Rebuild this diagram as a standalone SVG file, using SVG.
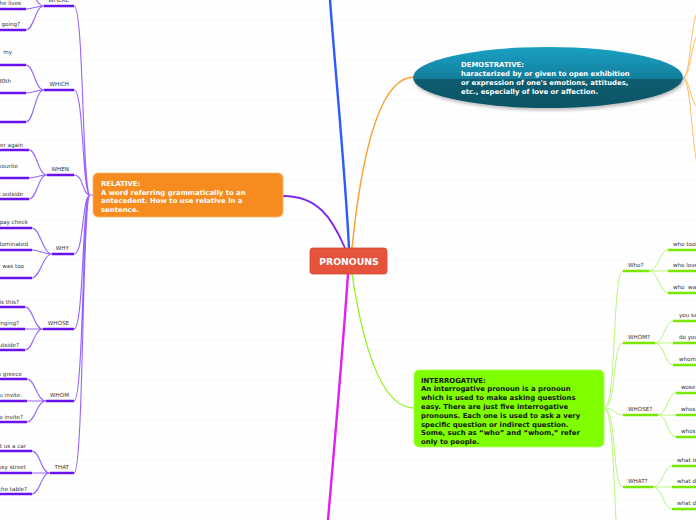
<svg xmlns="http://www.w3.org/2000/svg" width="696" height="520" viewBox="0 0 696 520">
<defs>
<pattern id="bg" width="696" height="10" patternUnits="userSpaceOnUse" y="0.5"><line x1="0" y1="10" x2="696" y2="10" stroke="#f0f0f0" stroke-width="1"/></pattern>
<linearGradient id="demo" x1="0" y1="0" x2="0" y2="1">
<stop offset="0" stop-color="#1aa2c4"/><stop offset="0.53" stop-color="#137d9b"/><stop offset="0.53" stop-color="#0d5d70"/><stop offset="1" stop-color="#0b5466"/>
</linearGradient>
<filter id="sh" x="-10%" y="-20%" width="120%" height="150%"><feGaussianBlur stdDeviation="1.5"/></filter>
<style>
.lbl{font-family:"DejaVu Sans",Verdana,sans-serif;font-size:5.6px;fill:#333333}
.nt{font-family:"DejaVu Sans",Verdana,sans-serif;font-size:6.9px;font-weight:bold}
.pu{stroke:#6a12f2;stroke-width:2.6;fill:none}
.pc{stroke:#9563ff;stroke-width:1.1;fill:none}
.gu{stroke:#78e800;stroke-width:2.6;fill:none}
.gc{stroke:#b9f57a;stroke-width:1;fill:none}
.oc{stroke:#ffbd66;stroke-width:1;fill:none}
</style>
</defs>
<rect width="696" height="520" fill="#ffffff"/>
<rect width="696" height="520" fill="url(#bg)"/>

<g id="connectors">
<path d="M349,248 C345,170 336,80 330,0" stroke="#2a5cff" stroke-width="2.4" fill="none"/>
<path d="M345,248 C332,218 318,196 283,196" stroke="#7a2af0" stroke-width="1.8" fill="none"/>
<path d="M352,248 C362,150 380,77 414,77" stroke="#f9a233" stroke-width="1.5" fill="none"/>
<path d="M348,274 C342,360 334,450 328,520" stroke="#e21ef2" stroke-width="2.4" fill="none"/>
<path d="M352,274 C362,340 380,408 414,408" stroke="#8ef21a" stroke-width="1.3" fill="none"/>
<path class="pc" d="M93,195 H90 M74,6 C84,6 82,195 90,195 M74,90 C84,90 82,195 90,195 M74,175 C84,175 82,195 90,195 M74,254 C84,254 82,195 90,195 M74,329 C84,329 82,195 90,195 M74,401 C84,401 82,195 90,195 M74,473 C84,473 82,195 90,195"/>
<path class="pc" d="M26,-13 C34,-13 35,6 44,6 M26,9 C34,9 35,6 44,6 M26,30 C34,30 35,6 44,6"/>
<path class="pc" d="M26,65 C34,65 35,90 44,90 M26,93 C34,93 35,90 44,90 M26,122 C34,122 35,90 44,90"/>
<path class="pc" d="M29,150 C37,150 38,175 47,175 M29,178 C37,178 38,175 47,175 M29,199 C37,199 38,175 47,175"/>
<path class="pc" d="M32,228 C40,228 43,254 52,254 M32,250 C40,250 43,254 52,254 M32,278 C40,278 43,254 52,254"/>
<path class="pc" d="M25,307 C33,307 34,329 43,329 M25,329 H43 M25,350 C33,350 34,329 43,329"/>
<path class="pc" d="M27,379 C35,379 37,401 46,401 M27,401 H46 M27,422 C35,422 37,401 46,401"/>
<path class="pc" d="M32,451 C40,451 41,473 50,473 M32,473 H50 M32,494 C40,494 41,473 50,473"/>
<path class="gc" d="M604,408 C617,408 612,271 623,271 M604,408 C617,408 612,343 623,343 M604,408 C615,408 614,415 623,415 M604,408 C617,408 612,487 623,487 M604,408 C617,408 612,560 623,560"/>
<path class="gc" d="M649,271 C658,271 660,250 668,250 M649,271 H668 M649,271 C658,271 660,293 668,293"/>
<path class="gc" d="M655,343 C664,343 665,321 673,321 M655,343 H673 M655,343 C664,343 665,365 673,365"/>
<path class="gc" d="M658,415 C667,415 668,393 676,393 M658,415 H676 M658,415 C667,415 668,437 676,437"/>
<path class="gc" d="M653,487 C662,487 664,466 672,466 M653,487 H672 M653,487 C662,487 664,509 672,509"/>
<path class="oc" d="M683,78 C690,78 690,30 697,12 M683,78 C690,78 691,45 697,36 M683,78 C689,78 689,95 697,108 M683,78 C690,78 691,130 697,165"/>
</g>

<g id="pronouns">
<rect x="310" y="248" width="77" height="26" rx="3" fill="#e5533d" stroke="#d6452f" stroke-width="0.8"/>
<text x="349" y="264.5" text-anchor="middle" font-family="'DejaVu Sans',Verdana,sans-serif" font-size="9.3" font-weight="bold" fill="#ffffff">PRONOUNS</text>
</g>

<g id="relative">
<rect x="93" y="173" width="190" height="44" rx="5" fill="#f68b1f" stroke="#f9b66e" stroke-width="0.8"/>
<text class="nt" fill="#ffffff"><tspan x="101" y="186">RELATIVE:</tspan><tspan x="101" y="194.5">A word referring grammatically to an</tspan><tspan x="101" y="203">antecedent. How to use relative in a</tspan><tspan x="101" y="211.5">sentence.</tspan></text>
</g>

<g id="demonstrative">
<ellipse cx="549" cy="80" rx="135" ry="30.5" fill="#777" opacity="0.45" filter="url(#sh)"/>
<ellipse cx="548" cy="77.5" rx="135" ry="30.5" fill="url(#demo)"/>
<text class="nt" fill="#ffffff"><tspan x="461" y="66.5">DEMOSTRATIVE:</tspan><tspan x="461" y="75.5">haracterized by or given to open exhibition</tspan><tspan x="461" y="84.5">or expression of one's emotions, attitudes,</tspan><tspan x="461" y="93.5">etc., especially of love or affection.</tspan></text>
</g>

<g id="interrogative">
<rect x="414" y="370" width="190" height="77" rx="5" fill="#80ff00" stroke="#a6ff55" stroke-width="0.8"/>
<text class="nt" fill="#111111"><tspan x="421" y="382.5">INTERROGATIVE:</tspan><tspan x="421" y="391.3">An interrogative pronoun is a pronoun</tspan><tspan x="421" y="400.1">which is used to make asking questions</tspan><tspan x="421" y="408.9">easy. There are just five interrogative</tspan><tspan x="421" y="417.7">pronouns. Each one is used to ask a very</tspan><tspan x="421" y="426.5">specific question or indirect question.</tspan><tspan x="421" y="435.3">Some, such as “who” and “whom,” refer</tspan><tspan x="421" y="444.1">only to people.</tspan></text>
</g>

<g id="rel-where">
<path class="pu" d="M44,6 H74 M-2,9 H26 M-2,30 H26"/>
<text class="lbl" x="69" y="1.5" text-anchor="end">WHERE</text>
<text class="lbl" x="21" y="4.5" text-anchor="end">he lives</text>
<text class="lbl" x="20" y="25.5" text-anchor="end">going?</text>
</g>
<g id="rel-which">
<path class="pu" d="M44,90 H74 M-2,65 H26 M-2,93 H26 M-2,122 H26"/>
<text class="lbl" x="69" y="86" text-anchor="end">WHICH</text>
<text class="lbl" x="12" y="54" text-anchor="end">my</text>
<text class="lbl" x="11" y="82.5" text-anchor="end">30th</text>
</g>
<g id="rel-when">
<path class="pu" d="M47,175 H74 M-2,150 H29 M-2,178 H29 M-2,199 H29"/>
<text class="lbl" x="69" y="170.5" text-anchor="end">WHEN</text>
<text class="lbl" x="23" y="146.5" text-anchor="end">er again</text>
<text class="lbl" x="18" y="167.5" text-anchor="end">vourite</text>
<text class="lbl" x="23" y="195.5" text-anchor="end">t outside</text>
</g>
<g id="rel-why">
<path class="pu" d="M52,254 H74 M-2,228 H32 M-2,250 H32 M-2,278 H32"/>
<text class="lbl" x="69" y="249.5" text-anchor="end">WHY</text>
<text class="lbl" x="28" y="224" text-anchor="end">pay check</text>
<text class="lbl" x="28" y="245.5" text-anchor="end">dominated</text>
<text class="lbl" x="24" y="267.5" text-anchor="end">r was too</text>
</g>
<g id="rel-whose">
<path class="pu" d="M43,329 H74 M-2,307 H25 M-2,329 H25 M-2,350 H25"/>
<text class="lbl" x="69" y="324.5" text-anchor="end">WHOSE</text>
<text class="lbl" x="19" y="303.5" text-anchor="end">is this?</text>
<text class="lbl" x="19" y="324.5" text-anchor="end">inging?</text>
<text class="lbl" x="19" y="346.5" text-anchor="end">utside?</text>
</g>
<g id="rel-whom">
<path class="pu" d="M46,401 H74 M-2,379 H27 M-2,401 H27 M-2,422 H27"/>
<text class="lbl" x="69" y="396.5" text-anchor="end">WHOM</text>
<text class="lbl" x="22" y="375.5" text-anchor="end">n greece</text>
<text class="lbl" x="22" y="396.5" text-anchor="end">u invite.</text>
<text class="lbl" x="23" y="418.5" text-anchor="end">o invite?</text>
</g>
<g id="rel-that">
<path class="pu" d="M50,473 H74 M-2,451 H32 M-2,473 H32 M-2,494 H32"/>
<text class="lbl" x="69" y="468.5" text-anchor="end">THAT</text>
<text class="lbl" x="26" y="447.5" text-anchor="end">t us a car</text>
<text class="lbl" x="26" y="468.5" text-anchor="end">usy street</text>
<text class="lbl" x="27" y="490.5" text-anchor="end">che table?</text>
</g>

<g id="int-who">
<path class="gu" d="M623,271 H649 M668,250 H698 M668,271 H698 M668,293 H698"/>
<text class="lbl" x="628" y="266.5">Who?</text>
<text class="lbl" x="673" y="245.5">who took</text>
<text class="lbl" x="673" y="266.5">who love</text>
<text class="lbl" x="673" y="288.5" xml:space="preserve">who  wa</text>
</g>
<g id="int-whom">
<path class="gu" d="M623,343 H655 M673,321 H698 M673,343 H698 M673,365 H698"/>
<text class="lbl" x="628" y="338.5">WHOM?</text>
<text class="lbl" x="679" y="316.5">you sa</text>
<text class="lbl" x="679" y="338.5">do you</text>
<text class="lbl" x="679" y="360.5">whom</text>
</g>
<g id="int-whose">
<path class="gu" d="M623,415 H658 M676,393 H698 M676,415 H698 M676,437 H698"/>
<text class="lbl" x="628" y="410.5">WHOSE?</text>
<text class="lbl" x="681" y="388.5">wose</text>
<text class="lbl" x="681" y="410.5">whos</text>
<text class="lbl" x="681" y="432.5">whos</text>
</g>
<g id="int-what">
<path class="gu" d="M623,487 H653 M672,466 H698 M672,487 H698 M672,509 H698"/>
<text class="lbl" x="628" y="482.5">WHAT?</text>
<text class="lbl" x="677" y="461.5">what is</text>
<text class="lbl" x="677" y="482.5">what d</text>
<text class="lbl" x="677" y="504.5">what d</text>
</g>
</svg>
